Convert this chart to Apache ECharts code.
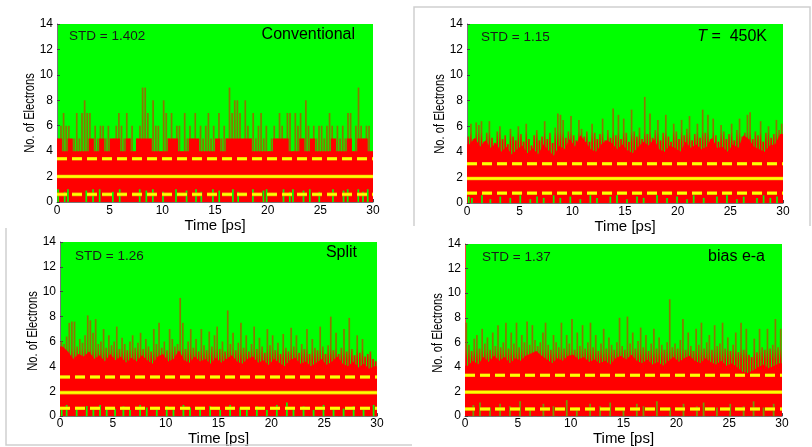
<!DOCTYPE html>
<html>
<head>
<meta charset="utf-8">
<script src="https://cdn.jsdelivr.net/npm/echarts@6.0.0/dist/echarts.min.js"></script>
<style>
  html, body { margin: 0; padding: 0; background: #fff; }
  #chart { width: 812px; height: 447px; }
</style>
</head>
<body>
<div id="chart"></div>
<script>
// peak value per 0.25 ps bin (thin olive spikes), 120 bins over 0..30 ps
const peakConv = [
  5,6,7,6,6,4,5,7,5,7, 8,7,7,4,6,5,6,6,5,6, 4,5,6,7,6,5,7,5,6,4,
  5,6,9,9,7,5,8,6,6,4, 8,7,5,7,5,6,6,4,7,5, 6,5,7,4,6,5,6,7,5,6,
  4,7,5,6,5,9,7,8,8,7, 4,8,6,5,7,5,6,7,5,6, 4,5,6,5,7,6,5,7,7,4,
  7,6,7,5,8,6,4,6,5,6, 6,5,6,7,6,4,6,5,6,5, 7,7,4,6,9,6,5,6,6,4
];
const peak450 = [
  5.2,6.2,5.0,6.3,6.1,6.4,4.8,5.5,6.4,5.1, 4.7,5.6,6.0,5.0,5.3,4.6,5.8,5.2,4.9,6.0,
  5.4,4.8,6.2,5.0,4.5,5.3,5.7,4.9,5.2,6.4, 5.0,5.5,4.7,5.9,7.0,6.9,6.5,5.1,5.6,6.8,
  5.3,4.9,6.5,5.8,5.2,5.6,4.8,6.2,5.5,5.0, 5.4,6.6,4.9,5.7,5.1,7.4,5.3,6.9,5.0,6.6,
  5.5,4.8,7.3,5.6,5.2,5.9,5.0,8.3,5.4,7.0, 5.1,5.7,6.5,4.9,5.5,6.9,5.2,4.8,6.2,5.6,
  5.0,6.5,5.3,5.8,6.8,4.9,5.4,6.2,5.1,7.3, 5.5,6.9,5.0,6.6,5.3,4.8,6.1,5.6,5.0,5.4,
  6.2,4.9,5.7,6.6,5.2,5.5,6.9,7.1,5.0,5.6, 5.3,6.4,4.8,5.5,6.0,5.1,5.4,6.5,5.7,6.2
];
const peakSplit = [
  6.0,5.8,6.4,7.5,7.6,7.6,5.6,6.2,5.9,6.5, 8.1,7.7,6.7,7.8,5.8,6.0,7.0,5.5,6.5,5.7,
  6.0,7.2,5.4,6.3,5.8,5.3,6.0,6.5,5.5,5.9, 6.7,5.4,6.2,5.6,5.2,7.0,5.8,7.5,5.5,6.0,
  5.3,7.0,6.2,5.6,5.8,9.5,7.5,5.4,6.0,7.0, 5.5,6.2,5.2,7.0,5.7,5.3,6.8,5.6,6.5,7.2,
  5.4,6.0,5.2,8.5,5.8,6.7,5.3,5.9,7.5,5.5, 6.5,5.2,5.8,7.2,5.4,6.3,5.6,5.1,7.0,5.7,
  6.5,5.3,5.9,5.0,6.6,5.5,5.2,7.1,5.6,6.5, 5.1,5.8,5.4,7.0,5.0,6.2,5.5,5.3,7.2,5.6,
  5.0,5.7,8.0,5.3,6.7,5.0,5.5,7.0,5.2,7.9, 5.4,4.9,6.5,5.1,6.2,4.8,5.0,5.2,4.6,4.4
];
const peakBias = [
  7.6,5.8,5.3,6.3,6.6,5.5,7.1,5.9,6.4,5.4, 6.8,5.7,7.4,5.6,6.0,7.6,5.5,6.8,5.9,7.6,
  5.6,6.6,6.0,7.7,5.8,7.4,6.2,5.7,6.0,6.8, 7.6,5.8,5.4,6.6,6.0,5.6,7.6,5.5,6.6,5.9,
  7.9,5.4,6.8,5.7,7.4,5.5,6.0,7.6,5.6,6.6, 5.3,5.9,7.1,5.5,6.4,5.8,5.4,6.0,8.0,5.7,
  5.4,8.1,5.9,6.8,5.5,6.1,7.2,5.6,6.6,5.3, 5.9,7.1,5.5,6.4,5.8,5.4,6.0,9.5,5.6,5.9,
  5.5,6.2,7.9,5.4,6.8,5.7,5.3,7.1,5.8,7.6, 5.5,6.0,6.6,5.4,7.4,5.7,5.9,7.6,5.5,6.4,
  5.3,5.8,6.8,5.2,7.6,5.4,7.1,5.0,4.8,6.3, 5.2,7.1,5.6,5.4,7.1,5.5,5.8,7.9,5.6,7.1
];

// level of the solid red band per 0.5 ps bin, 60 bins
const bandConv = [
  5,4,5,4,4,4,5,4,5,4, 5,5,4,5,4,5,5,5,4,4, 4,5,5,4,4,5,5,4,4,4,
  5,4,5,5,5,5,5,4,4,4, 4,5,5,5,4,4,5,4,5,4, 4,4,5,4,4,5,4,5,5,4
];
const band450 = [
  4.6,5.1,4.4,4.9,4.3,4.7,4.0,4.4,3.8,4.2, 4.5,3.9,4.3,3.8,4.6,4.1,3.7,4.5,4.2,5.0,
  4.4,5.3,4.8,4.2,4.0,4.6,4.9,4.7,4.2,4.6, 4.1,3.9,4.4,4.8,4.5,5.0,4.2,4.0,4.5,4.3,
  4.0,4.8,4.3,4.6,4.2,4.4,5.1,4.3,4.4,4.0, 4.6,4.3,5.3,5.0,4.4,4.2,4.0,4.5,4.6,5.4
];
const bandSplit = [
  5.6,5.2,4.6,5.0,4.8,5.2,4.6,4.9,4.4,5.0, 4.5,4.8,4.3,4.7,4.4,4.9,4.5,4.2,4.8,5.0,
  4.4,4.6,5.3,4.5,4.3,4.8,4.4,4.6,4.2,4.7, 4.3,4.6,4.9,4.4,4.2,4.6,4.8,4.3,4.5,4.1,
  4.6,4.3,4.0,4.5,4.7,4.2,4.4,4.0,4.3,4.6, 4.1,4.4,4.8,4.2,4.0,4.4,3.9,4.2,3.8,4.0
];
const bandBias = [
  4.1,4.5,4.2,4.8,4.4,4.9,4.5,4.8,4.3,4.7, 4.5,4.9,5.1,5.3,4.9,4.6,4.3,4.7,4.5,4.9,
  5.0,4.6,4.8,4.4,4.6,4.3,4.5,4.2,4.7,4.9, 4.6,5.0,4.5,4.3,4.6,4.2,4.4,4.1,4.5,4.8,
  4.4,4.7,4.9,4.5,4.3,4.7,4.4,4.2,4.5,4.1, 4.3,4.0,3.6,3.5,3.7,4.0,4.2,3.9,4.1,4.3
];

// short drops near zero: [time ps, height]
const dipConv = [[0.1,1.0],[0.73,0.8],[1.04,1.0],[2.78,0.9],[3.42,1.0],[4.05,1.0],[5.3,0.8],[5.95,1.0],
  [7.85,1.0],[8.48,0.9],[9.1,1.0],[10.06,0.8],[11.3,1.0],[12.3,0.9],[13.2,1.0],[13.7,0.8],[14.8,1.0],
  [15.4,0.9],[16.7,1.0],[17.2,0.8],[18.6,1.0],[19.6,0.9],[19.9,1.0],[21.5,1.0],[22.1,0.8],[22.4,1.0],
  [23.4,0.9],[24.0,1.0],[24.9,0.8],[26.2,1.0],[27.2,0.9],[27.6,1.0],[28.6,1.0],[29.05,0.8],[29.5,1.0]];
const dip450 = [[0.16,0.5],[0.47,0.4],[1.42,0.6],[2.22,0.3],[3.16,0.5],[4.11,0.4],[5.06,0.6],[6.01,0.3],
  [6.65,0.5],[7.28,0.4],[8.23,0.6],[8.86,0.4],[9.81,0.5],[10.76,0.3],[11.71,0.6],[12.34,0.4],[13.61,0.5],
  [14.24,0.6],[15.19,0.3],[16.14,0.5],[16.77,0.4],[18.04,0.6],[18.99,0.4],[19.94,0.5],[20.89,0.3],
  [21.52,0.6],[22.47,0.4],[23.73,0.5],[24.68,0.6],[25.63,0.3],[26.27,0.5],[27.53,0.4],[28.16,0.6],
  [28.8,0.4],[29.43,0.5]];
const dipSplit = [[0.16,0.7],[0.63,0.9],[1.58,0.6],[2.53,0.8],[3.16,0.5],[3.79,0.9],[4.42,0.7],[5.21,0.6],
  [6.0,0.8],[6.63,0.5],[7.58,0.9],[8.21,0.7],[9.16,0.6],[10.1,0.8],[10.74,0.5],[11.68,0.9],[12.31,0.7],
  [13.26,0.6],[14.21,0.8],[15.16,0.5],[16.1,0.9],[17.05,0.7],[17.68,0.6],[18.63,0.8],[19.58,0.5],
  [20.52,0.9],[21.47,1.1],[22.1,0.6],[23.05,0.8],[24.0,0.5],[24.94,0.9],[25.89,0.7],[26.84,0.6],
  [27.79,0.8],[28.73,0.5],[29.68,0.9]];
const dipBias = [[0.79,0.9],[1.42,1.1],[2.37,0.7],[3.32,1.0],[4.26,0.8],[5.21,1.2],[6.16,0.7],[7.42,1.0],
  [8.37,0.8],[9.63,1.3],[10.58,0.7],[11.84,1.0],[12.79,0.8],[13.74,1.1],[15.0,0.7],[16.26,1.0],
  [16.89,0.8],[18.16,1.2],[19.42,0.7],[20.68,1.0],[21.95,0.8],[22.58,1.1],[23.84,0.7],[25.1,1.0],
  [26.37,0.8],[27.31,1.2],[28.26,0.7],[29.21,1.0]];

const means = [2.0, 1.92, 1.89, 1.95];
const stds = [1.402, 1.15, 1.26, 1.37];
const stdLabels = ['STD = 1.402', 'STD = 1.15', 'STD = 1.26', 'STD = 1.37'];
const titles = ['Conventional', '{i|T} =  450K', 'Split', 'bias e-a'];

const GREEN = '#00ff00', RED = '#ff0000', OLIVE = '#8a7800', YELLOW = '#ffff00';
const FONT = '"Liberation Sans", Arial, sans-serif';

const panels = [
  { peak: peakConv, band: bandConv, dips: dipConv, step: true, redTop: null,
    grid: { left: 57, top: 24, width: 316, height: 178 }, nameGap: 7, labelMargin: 3,
    dipColor: GREEN, axisColor: '#777', std: [69, 36], title: [355, 35], yName: [30, 113] },
  { peak: peak450, band: band450, dips: dip450, step: false, redTop: 5.0,
    grid: { left: 467, top: 24, width: 316, height: 179 }, nameGap: 5, labelMargin: 3,
    dipColor: GREEN, axisColor: '#777', std: [481, 37], title: [767, 37], yName: [440, 114] },
  { peak: peakSplit, band: bandSplit, dips: dipSplit, step: false, redTop: 5.1,
    grid: { left: 60, top: 242, width: 317, height: 179 }, nameGap: 6, labelMargin: 2,
    dipColor: GREEN, axisColor: '#777', std: [75, 256], title: [357, 253], yName: [33, 331] },
  { peak: peakBias, band: bandBias, dips: dipBias, step: false, redTop: 5.2,
    grid: { left: 465, top: 244, width: 317, height: 178 }, nameGap: 5, labelMargin: 2,
    dipColor: '#6fa000', axisColor: '#ff4040', std: [482, 257], title: [765, 257], yName: [438, 333] }
];

const grids = [], xAxes = [], yAxes = [], series = [], graphics = [];

panels.forEach((p, k) => {
  const g = p.grid;
  grids.push(Object.assign({ show: true, backgroundColor: GREEN, borderWidth: 0 }, g));
  xAxes.push({
    gridIndex: k, type: 'value', min: 0, max: 30, interval: 5,
    name: 'Time [ps]', nameLocation: 'middle', nameGap: p.nameGap,
    nameTextStyle: { fontFamily: FONT, fontSize: 15, color: '#000' },
    axisLine: { show: true, lineStyle: { color: '#777', width: 1 } },
    axisTick: { show: true, inside: true, length: 3, lineStyle: { color: '#444' } },
    axisLabel: { fontFamily: FONT, fontSize: 12, color: '#000', margin: p.labelMargin },
    splitLine: { show: false }
  });
  yAxes.push({
    gridIndex: k, type: 'value', min: 0, max: 14, interval: 2,
    axisLine: { show: true, lineStyle: { color: p.axisColor, width: 1 } },
    axisTick: { show: true, inside: true, length: 3, lineStyle: { color: '#444' } },
    axisLabel: { fontFamily: FONT, fontSize: 12, color: '#000', margin: 4 },
    splitLine: { show: false }
  });

  // spikes: red near the band, olive higher up (gradient in canvas pixels)
  let spikeColor = OLIVE;
  if (p.redTop !== null) {
    const py = v => g.top + g.height * (1 - v / 14);
    spikeColor = new echarts.graphic.LinearGradient(0, py(p.redTop - 0.3), 0, py(p.redTop + 0.6), [
      { offset: 0, color: RED }, { offset: 1, color: OLIVE }
    ], true);
  }

  const peakData = p.peak.map((v, i) => [(i + 0.5) * 0.25, v]);
  const last = p.band[p.band.length - 1];
  const bandData = p.step
    ? p.band.map((v, i) => [i * 0.5, v]).concat([[30, last]])
    : [[0, p.band[0]]].concat(p.band.map((v, i) => [(i + 0.5) * 0.5, v]), [[30, last]]);

  series.push({
    type: 'bar', xAxisIndex: k, yAxisIndex: k, data: peakData,
    barWidth: 1.7, barGap: '-100%', itemStyle: { color: spikeColor }, z: 2, silent: true
  });
  series.push({
    type: 'line', xAxisIndex: k, yAxisIndex: k, data: bandData,
    step: p.step ? 'end' : false, symbol: 'none',
    lineStyle: { width: 0 }, areaStyle: { color: RED, opacity: 1 }, z: 3, silent: true
  });
  series.push({
    type: 'bar', xAxisIndex: k, yAxisIndex: k, data: p.dips,
    barWidth: 1.7, barGap: '-100%', itemStyle: { color: p.dipColor }, z: 4, silent: true
  });

  const m = means[k], s = stds[k];
  [[m, 'solid'], [m + s, [10, 5]], [m - s, [10, 5]]].forEach(([y, type]) => {
    series.push({
      type: 'line', xAxisIndex: k, yAxisIndex: k, data: [[0, y], [30, y]],
      symbol: 'none', lineStyle: { color: '#e8b000', width: 3.6, type: type }, z: 5, silent: true
    });
    series.push({
      type: 'line', xAxisIndex: k, yAxisIndex: k, data: [[0, y], [30, y]],
      symbol: 'none', lineStyle: { color: YELLOW, width: 2.4, type: type }, z: 6, silent: true
    });
  });

  graphics.push({
    type: 'text', x: p.std[0], y: p.std[1], z: 10,
    style: { text: stdLabels[k], font: '13.5px ' + FONT, fill: '#1a1a1a', verticalAlign: 'middle', align: 'left' }
  });
  graphics.push({
    type: 'text', x: p.title[0], y: p.title[1], z: 10,
    style: {
      text: titles[k], font: '16px ' + FONT, fill: '#000', verticalAlign: 'middle', align: 'right',
      rich: { i: { fontStyle: 'italic', fontSize: 16, fontFamily: FONT } }
    }
  });
  // y axis title, narrowed along its length like the source
  graphics.push({
    type: 'text', x: p.yName[0], y: p.yName[1], rotation: Math.PI / 2, scaleX: 0.8, z: 10,
    style: { text: 'No. of Electrons', font: '14px ' + FONT, fill: '#000', verticalAlign: 'middle', align: 'center' }
  });
});

// thin grey frames that surround two of the panels in the source figure
graphics.push({
  type: 'polyline', z: 1, shape: { points: [[414, 226], [414, 7], [810, 7], [810, 226]] },
  style: { stroke: '#cfcfcf', lineWidth: 1.5, fill: null }
});
graphics.push({
  type: 'polyline', z: 1, shape: { points: [[6, 228], [6, 445], [412, 445]] },
  style: { stroke: '#cfcfcf', lineWidth: 1.5, fill: null }
});

const chart = echarts.init(document.getElementById('chart'), null, { renderer: 'canvas' });
chart.setOption({
  animation: false,
  backgroundColor: '#fff',
  grid: grids,
  xAxis: xAxes,
  yAxis: yAxes,
  series: series,
  graphic: graphics
});
</script>
</body>
</html>
